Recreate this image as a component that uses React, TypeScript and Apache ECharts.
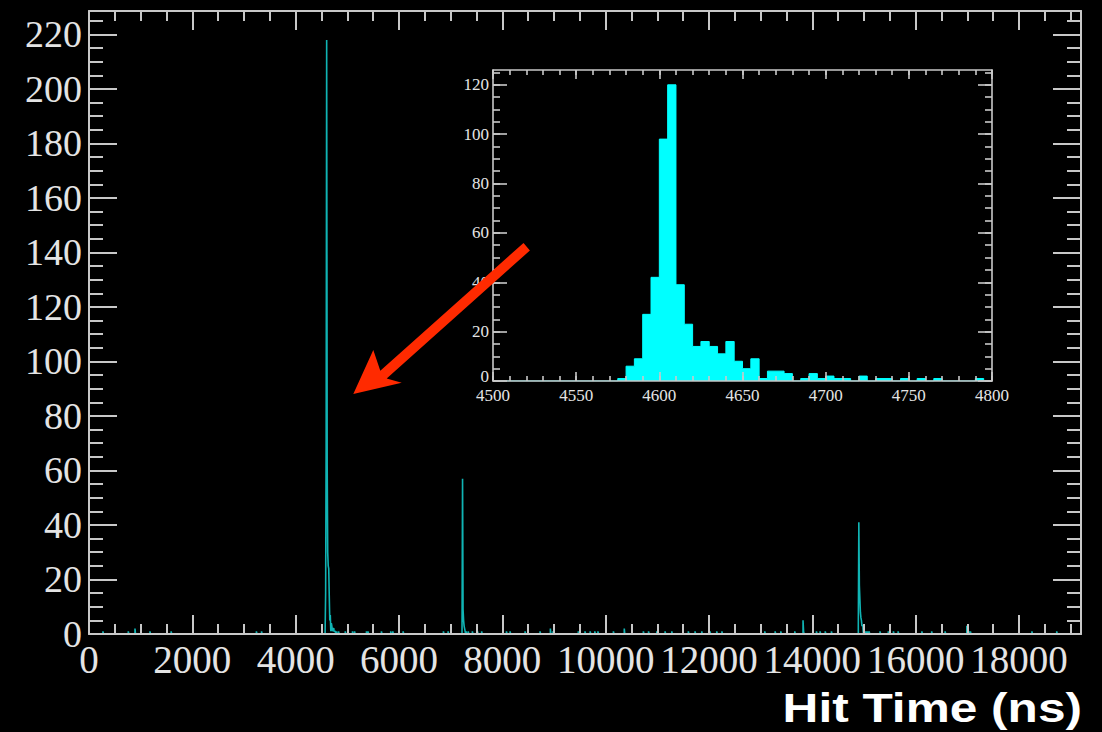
import React, { useEffect, useRef } from "react";
import * as echarts from "echarts";

// ---------- tick labels ----------
const mainXLabels = [0, 2000, 4000, 6000, 8000, 10000, 12000, 14000, 16000, 18000];
const mainYLabels = [0, 20, 40, 60, 80, 100, 120, 140, 160, 180, 200, 220];
const insetXLabels = [4500, 4550, 4600, 4650, 4700, 4750, 4800];
const insetYLabels = [0, 20, 40, 60, 80, 100, 120];

// ---------- ranges ----------
const MAIN_BIN = 10; // ns
const MAIN_X_MAX = 19200;
const MAIN_Y_MAX = 228.6;
const INSET_BIN = 5; // ns
const INSET_X_MIN = 4500;
const INSET_X_MAX = 4800;
const INSET_Y_MAX = 126;

// ---------- main histogram (10 ns bins) : [bin start, counts] ----------
const peak4600: [number, number][] = [
  [4570, 1], [4580, 15], [4590, 69], [4600, 218], [4610, 62], [4620, 30], [4630, 25],
  [4640, 24], [4650, 14], [4660, 5], [4670, 7], [4680, 1], [4690, 4], [4700, 3],
  [4710, 1], [4720, 2], [4730, 2], [4740, 1], [4750, 1], [4760, 1], [4790, 1],
];
const peak7230: [number, number][] = [
  [7220, 2], [7230, 57], [7240, 9], [7250, 5], [7260, 3], [7270, 2], [7280, 1], [7300, 1],
];
const peak14900: [number, number][] = [
  [14890, 3], [14900, 41], [14910, 18], [14920, 13], [14930, 8], [14940, 6], [14950, 5],
  [14960, 3], [14970, 3], [14980, 2], [15000, 2], [15020, 1], [15050, 1], [15080, 1], [15100, 1],
];
const smallPeaks: [number, number][] = [
  [13820, 5], [13830, 1], [16990, 3], [17000, 2], [17030, 1], [17060, 1],
];
const backgroundHits: [number, number][] = [
  [270, 1], [760, 1], [890, 2], [1180, 1], [1590, 1], [3240, 1], [3340, 1],
  [4830, 1], [4960, 1], [5100, 1], [5140, 1], [5370, 1], [5400, 1], [5660, 1], [5840, 1],
  [5880, 1], [6080, 1], [6500, 1], [6860, 1], [6950, 1], [7340, 1], [7420, 1], [7520, 1],
  [7600, 1], [8080, 1], [8150, 1], [8440, 1], [8730, 1], [8930, 2], [8980, 1], [9470, 1],
  [9600, 1], [9700, 1], [9790, 1], [9850, 1], [10150, 1], [10360, 2], [10730, 1], [10830, 1],
  [10990, 1], [11150, 1], [11280, 1], [11600, 1], [11730, 1], [11860, 1], [12020, 1],
  [12150, 1], [12250, 1], [13080, 1], [13280, 1], [13390, 1], [13660, 1], [14080, 1],
  [14150, 1], [14250, 1], [14370, 1], [15310, 1], [15470, 1], [15570, 1], [15660, 1],
  [16120, 1], [16310, 1], [16570, 1], [18250, 1], [18730, 1],
];

// ---------- inset histogram (5 ns bins from 4575 ns) ----------
const INSET_FIRST_BIN = 4575;
const insetCounts = [
  1, 6, 9, 27, 42, 98, 120, 39, 23, 14, 16, 14, 11, 16, 8, 5, 9, 1, 4, 4, 3, 0, 1,
  3, 1, 2, 1, 1, 0, 2, 0, 1, 1, 0, 1, 0, 1, 0, 1, 0, 0, 0, 0, 1, 0,
];

// ---------- helpers ----------
function stepPoints(bins: Map<number, number>, min: number, max: number, width: number) {
  const pts: [number, number][] = [];
  let prev = -1;
  const n = Math.round((max - min) / width);
  for (let k = 0; k < n; k++) {
    const e = min + k * width;
    const v = bins.get(e) || 0;
    if (v !== prev) {
      pts.push([e, v]);
      prev = v;
    }
  }
  pts.push([max, 0]);
  return pts;
}

function ticks(min: number, max: number, step: number) {
  const out: number[] = [];
  for (let v = min; v <= max + 1e-9; v += step) out.push(v);
  return out;
}

const FRAME = "#c8c8c8";
const TEXT = "#e4e4e4";
const SERIF = "'Liberation Serif', 'DejaVu Serif', 'Times New Roman', serif";
const plain = (v: number) => String(Math.round(v));
const insetY = (v: number) => (Math.round(v) === 0 ? "{z|0}" : String(Math.round(v)));

function axis(
  grid: number,
  min: number,
  max: number,
  position: string,
  values: number[],
  len: number,
  showLine: boolean,
  label: any,
  lw: number
) {
  return {
    type: "value",
    gridIndex: grid,
    min,
    max,
    position,
    z: 5,
    axisLine: { show: showLine, onZero: false, lineStyle: { color: FRAME, width: lw } },
    axisTick: {
      show: true,
      inside: true,
      length: len,
      customValues: values,
      lineStyle: { color: FRAME, width: lw },
    },
    axisLabel: label ? { show: true, formatter: plain, hideOverlap: false, ...label } : { show: false },
    splitLine: { show: false },
    minorTick: { show: false },
  };
}

export default function App() {
  const ref = useRef<HTMLDivElement>(null);

  useEffect(() => {
    document.body.style.margin = "0";
    document.body.style.background = "#000";
    const chart = echarts.init(ref.current!, null, { renderer: "svg" });

    const mainMap = new Map<number, number>();
    [...peak4600, ...peak7230, ...peak14900, ...smallPeaks, ...backgroundHits].forEach(([e, c]) =>
      mainMap.set(e, (mainMap.get(e) || 0) + c)
    );
    const mainData = stepPoints(mainMap, 0, MAIN_X_MAX, MAIN_BIN);

    const insetMap = new Map<number, number>();
    insetCounts.forEach((c, i) => insetMap.set(INSET_FIRST_BIN + i * INSET_BIN, c));
    const insetData = stepPoints(insetMap, INSET_X_MIN, INSET_X_MAX, INSET_BIN);

    const mainXLab = { customValues: mainXLabels, color: TEXT, fontFamily: SERIF, fontSize: 39, margin: 6 };
    const mainYLab = { customValues: mainYLabels, color: TEXT, fontFamily: SERIF, fontSize: 38, margin: 7 };
    const insXLab = { customValues: insetXLabels, color: TEXT, fontFamily: SERIF, fontSize: 17, margin: 6 };
    const insYLab = {
      customValues: insetYLabels, color: TEXT, fontFamily: SERIF, fontSize: 17, margin: 4,
      formatter: insetY,
      rich: { z: { fontFamily: SERIF, fontSize: 17, color: TEXT, padding: [0, 0, 10, 0] } },
    };

    const xAxis = [
      // main grid
      axis(0, 0, MAIN_X_MAX, "bottom", mainXLabels, 19, true, mainXLab, 2),
      axis(0, 0, MAIN_X_MAX, "bottom", ticks(0, MAIN_X_MAX, 500), 10, false, null, 2),
      axis(0, 0, MAIN_X_MAX, "top", mainXLabels, 19, true, null, 2),
      axis(0, 0, MAIN_X_MAX, "top", ticks(0, MAIN_X_MAX, 500), 10, false, null, 2),
      // inset grid
      axis(1, INSET_X_MIN, INSET_X_MAX, "bottom", insetXLabels, 9, true, insXLab, 1.6),
      axis(1, INSET_X_MIN, INSET_X_MAX, "bottom", ticks(INSET_X_MIN, INSET_X_MAX, 10), 5, false, null, 1.6),
      axis(1, INSET_X_MIN, INSET_X_MAX, "top", insetXLabels, 9, true, null, 1.6),
      axis(1, INSET_X_MIN, INSET_X_MAX, "top", ticks(INSET_X_MIN, INSET_X_MAX, 10), 5, false, null, 1.6),
    ];
    const yAxis = [
      axis(0, 0, MAIN_Y_MAX, "left", mainYLabels, 28, true, mainYLab, 2),
      axis(0, 0, MAIN_Y_MAX, "left", ticks(0, MAIN_Y_MAX, 5), 14, false, null, 2),
      axis(0, 0, MAIN_Y_MAX, "right", mainYLabels, 28, true, null, 2),
      axis(0, 0, MAIN_Y_MAX, "right", ticks(0, MAIN_Y_MAX, 5), 14, false, null, 2),
      axis(1, 0, INSET_Y_MAX, "left", insetYLabels, 14, true, insYLab, 1.6),
      axis(1, 0, INSET_Y_MAX, "left", ticks(0, INSET_Y_MAX, 5), 7, false, null, 1.6),
      axis(1, 0, INSET_Y_MAX, "right", insetYLabels, 14, true, null, 1.6),
      axis(1, 0, INSET_Y_MAX, "right", ticks(0, INSET_Y_MAX, 5), 7, false, null, 1.6),
    ];

    // red arrow (annotation)
    const arrow = [
      [523.5, 242.9], [380.3, 370.8], [373.3, 350], [353.3, 394], [401.7, 382.7],
      [386.7, 378.4], [529.9, 250.5],
    ];

    chart.setOption({
      animation: false,
      backgroundColor: "#000",
      grid: [
        { left: 89, top: 11, right: 21, bottom: 98, containLabel: false },
        {
          left: 493, top: 70, right: 110, bottom: 351, containLabel: false,
          show: true, backgroundColor: "#000", borderWidth: 0, z: 3,
        },
      ],
      xAxis,
      yAxis,
      series: [
        {
          type: "line",
          xAxisIndex: 0,
          yAxisIndex: 0,
          data: mainData,
          step: "end",
          showSymbol: false,
          symbol: "none",
          lineStyle: { color: "#10b4b4", width: 1.6 },
          silent: true,
          z: 2,
        },
        {
          type: "line",
          xAxisIndex: 4,
          yAxisIndex: 4,
          data: insetData,
          step: "end",
          showSymbol: false,
          symbol: "none",
          lineStyle: { color: "#00ffff", width: 1 },
          areaStyle: { color: "#00ffff", opacity: 1 },
          silent: true,
          z: 4,
        },
      ],
      graphic: [
        {
          type: "polygon",
          z: 100,
          shape: { points: arrow },
          style: { fill: "#ff2a00" },
        },
        {
          type: "text",
          z: 100,
          x: 1082,
          y: 708,
          scaleX: 1.24,
          style: {
            text: "Hit Time (ns)",
            fill: "#ffffff",
            font: "bold 40px 'Liberation Sans', Arial, Helvetica, sans-serif",
            align: "right",
            verticalAlign: "middle",
          },
        },
      ],
    });

    return () => chart.dispose();
  }, []);

  return (
    <div
      ref={ref}
      style={{ position: "fixed", left: 0, top: 0, width: 1102, height: 732, background: "#000" }}
    />
  );
}
